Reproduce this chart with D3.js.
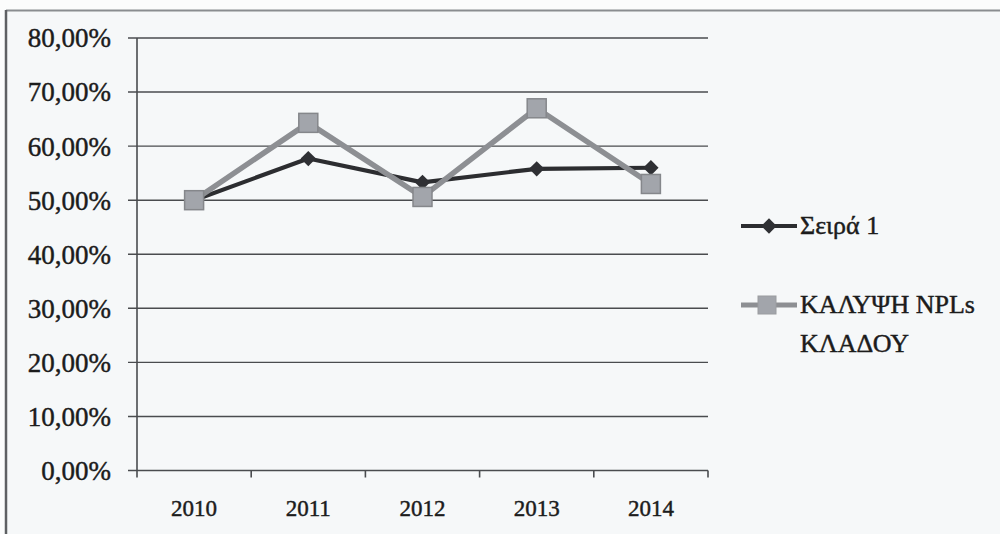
<!DOCTYPE html>
<html>
<head>
<meta charset="utf-8">
<script src="https://cdn.jsdelivr.net/npm/d3@7/dist/d3.min.js"></script>
<style>
  html, body { margin: 0; padding: 0; background: #fbfcfc; }
  svg { display: block; }
  text { font-family: "Liberation Serif", "DejaVu Serif", serif; fill: #1c1c1c; stroke: #1c1c1c; stroke-width: 0.45px; }
</style>
</head>
<body>
<svg id="chart" width="1000" height="534"></svg>
<script>
// Years on the category axis
const years = ["2010", "2011", "2012", "2013", "2014"];
// Series values (fractions)
const seira1 = [0.500, 0.577, 0.533, 0.558, 0.560];
const kalypsi = [0.500, 0.643, 0.506, 0.670, 0.530];
// Value-axis ticks
const yTicks = [0, 0.1, 0.2, 0.3, 0.4, 0.5, 0.6, 0.7, 0.8];
// Legend entries
const seriesNames = ["Σειρά 1", ["ΚΑΛΥΨΗ NPLs", "ΚΛΑΔΟΥ"]];

const svg = d3.select("#chart");

// Chart frame background and border
svg.append("rect").attr("x", 6).attr("y", 10).attr("width", 994).attr("height", 524)
  .attr("fill", "#f6f8f9");
svg.append("line").attr("x1", 6).attr("x2", 1000).attr("y1", 10.5).attr("y2", 10.5)
  .attr("stroke", "#8a8d90").attr("stroke-width", 2);
svg.append("line").attr("x1", 6).attr("x2", 6).attr("y1", 10).attr("y2", 534)
  .attr("stroke", "#5e6063").attr("stroke-width", 2.5);

const x = d3.scaleBand().domain(years).range([137, 708]);
const y = d3.scaleLinear().domain([0, 0.8]).range([470.5, 38]);

const fmt = v => d3.format(".2f")(v * 100).replace(".", ",") + "%";

// Value-axis labels
const gy = svg.append("g").attr("transform", "translate(128,0)")
  .call(d3.axisLeft(y).tickValues(yTicks).tickSize(0).tickFormat(fmt).tickPadding(17));
gy.select(".domain").remove();
gy.selectAll("text").attr("font-size", 27).attr("dy", "0.33em").attr("fill", "#1c1c1c")
  .style("font-family", "'Liberation Serif', serif");

// Horizontal gridlines with outward tick marks
svg.append("g").selectAll("line").data(yTicks).join("line")
  .attr("x1", 128).attr("x2", 708)
  .attr("y1", d => y(d)).attr("y2", d => y(d))
  .attr("stroke", "#4a4c4f").attr("stroke-width", 1.4);

// Vertical value axis line
svg.append("line").attr("x1", 137).attr("x2", 137).attr("y1", y(0.8)).attr("y2", y(0))
  .attr("stroke", "#4a4c4f").attr("stroke-width", 1.6);

// Category axis: tick marks at band boundaries, labels at band centres
const bounds = years.map(d => x(d)).concat([x.range()[1]]);
svg.append("g").selectAll("line").data(bounds).join("line")
  .attr("x1", d => d).attr("x2", d => d)
  .attr("y1", y(0)).attr("y2", y(0) + 7)
  .attr("stroke", "#4a4c4f").attr("stroke-width", 1.6);
svg.append("g").selectAll("text").data(years).join("text")
  .attr("x", d => x(d) + x.bandwidth() / 2)
  .attr("y", 516)
  .attr("text-anchor", "middle")
  .attr("font-size", 23)
  .text(d => d);

const cx = d => x(d) + x.bandwidth() / 2;
const line = d3.line().x((d, i) => cx(years[i])).y(d => y(d));

// Dark series with diamond markers
svg.append("path").datum(seira1).attr("d", line)
  .attr("fill", "none").attr("stroke", "#2c2d30").attr("stroke-width", 4.2).attr("stroke-linejoin", "round");
const diamond = d3.symbol().type(d3.symbolDiamond2).size(150);
svg.append("g").selectAll("path").data(seira1).join("path")
  .attr("transform", (d, i) => `translate(${cx(years[i])},${y(d)})`)
  .attr("d", diamond).attr("fill", "#2f3034");

// Gray series with square markers
svg.append("path").datum(kalypsi).attr("d", line)
  .attr("fill", "none").attr("stroke", "#8d8f93").attr("stroke-width", 5.5).attr("stroke-linejoin", "round");
svg.append("g").selectAll("rect").data(kalypsi).join("rect")
  .attr("x", (d, i) => cx(years[i]) - 9.5).attr("y", d => y(d) - 9.5)
  .attr("width", 19).attr("height", 19)
  .attr("fill", "#a2a5ab").attr("stroke", "#85878b").attr("stroke-width", 1.5);

// Legend
const lg = svg.append("g");
lg.append("line").attr("x1", 741).attr("x2", 797).attr("y1", 226).attr("y2", 226)
  .attr("stroke", "#2c2d30").attr("stroke-width", 4);
lg.append("path").attr("transform", "translate(769,226)").attr("d", diamond).attr("fill", "#2f3034");
lg.append("text").attr("x", 800).attr("y", 234).attr("font-size", 26).text(seriesNames[0]);

lg.append("line").attr("x1", 741).attr("x2", 797).attr("y1", 305).attr("y2", 305)
  .attr("stroke", "#8d8f93").attr("stroke-width", 5);
lg.append("rect").attr("x", 758).attr("y", 296).attr("width", 18).attr("height", 18)
  .attr("fill", "#a2a5ab").attr("stroke", "#9a9ca0").attr("stroke-width", 1);
const t2 = lg.append("text").attr("font-size", 26);
seriesNames[1].forEach((s, i) => {
  t2.append("tspan").attr("x", 800).attr("y", 313 + i * 39).text(s);
});
</script>
</body>
</html>
